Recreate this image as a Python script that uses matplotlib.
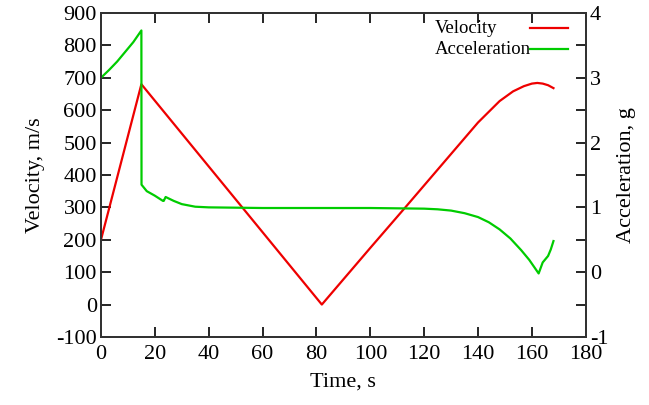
import matplotlib
matplotlib.use("Agg")
import matplotlib.pyplot as plt
from matplotlib.ticker import MultipleLocator
import numpy as np

plt.rcParams['font.family'] = ['Liberation Serif', 'DejaVu Serif']
plt.rcParams['axes.unicode_minus'] = False

# Velocity (m/s) vs time (s)
vel_t = [0, 15, 82, 100, 113, 130, 140, 148, 153, 157, 160, 162, 164, 166, 168]
vel_v = [200, 680, 0, 175, 300, 465, 562, 628, 658, 674, 682, 684, 682, 677, 668]

# Acceleration (g) vs time (s)
acc_t = [0, 3, 6, 9, 12, 15, 15.05, 17, 20, 23, 23.3, 24, 27, 30, 35, 40, 60, 80,
         100, 120, 125, 130, 135, 140, 144, 148, 152, 156, 159, 162.5, 164, 166, 167, 168]
acc_a = [3.0, 3.12, 3.25, 3.4, 3.55, 3.73, 1.35, 1.25, 1.18, 1.1, 1.1, 1.16, 1.1,
         1.05, 1.01, 1.0, 0.99, 0.99, 0.99, 0.98, 0.97, 0.95, 0.91, 0.85, 0.77, 0.66,
         0.52, 0.34, 0.19, -0.02, 0.15, 0.25, 0.35, 0.48]

series_names = ['Velocity', 'Acceleration']
series_colors = ['#ee0000', '#00cc00']

fig = plt.figure(figsize=(6.49, 4.05), dpi=100)
ax = fig.add_axes([0.1556, 0.168, 0.747, 0.80])
ax2 = ax.twinx()

lv, = ax.plot(vel_t, vel_v, color=series_colors[0], lw=1.6)
la, = ax2.plot(acc_t, acc_a, color=series_colors[1], lw=1.6)

ax.set_xlim(0, 180)
ax.set_ylim(-100, 900)
ax2.set_ylim(-1, 4)
ax.set_xticks(np.arange(0, 181, 20))
ax.set_yticks(np.arange(-100, 901, 100))
ax2.set_yticks(np.arange(-1, 5, 1))
ax2.yaxis.set_minor_locator(MultipleLocator(0.5))

fs = 16
ax.tick_params(axis='x', direction='in', top=True, length=7, width=1.2, labelsize=fs, pad=6)
ax.tick_params(axis='y', direction='in', length=7, width=1.2, labelsize=fs, pad=3)
ax2.tick_params(axis='y', which='both', direction='in', length=7, width=1.2, labelsize=fs, pad=3)
for a in (ax, ax2):
    for s in a.spines.values():
        s.set_linewidth(1.4)
        s.set_color('#333333')

ax.set_xlabel('Time, s', fontsize=fs, labelpad=6)
ax.set_ylabel('Velocity, m/s', fontsize=fs, labelpad=8)
ax2.set_ylabel('Acceleration, g', fontsize=fs, labelpad=6)

# gnuplot-style key: left-aligned text, sample line on the right
key_y = [0.953, 0.8875]
for name, col, yk in zip(series_names, series_colors, key_y):
    ax.text(0.689, yk, name, transform=ax.transAxes, fontsize=13.5,
            ha='left', va='center')
    ax.plot([0.885, 0.963], [yk, yk], transform=ax.transAxes, color=col, lw=1.6,
            clip_on=False)

fig.savefig('out.png', dpi=100)
